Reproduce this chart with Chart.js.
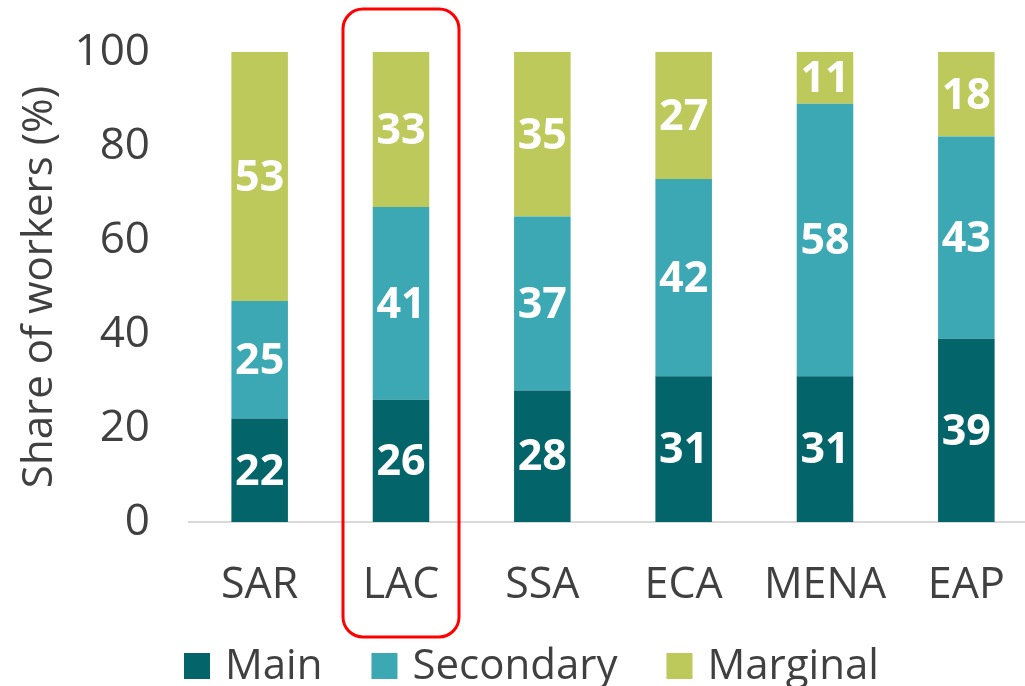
<!DOCTYPE html>
<html>
<head>
<meta charset="utf-8">
<script src="https://cdn.jsdelivr.net/npm/chart.js@4.4.0/dist/chart.umd.min.js"></script>
<style>
  html, body { margin: 0; padding: 0; background: #fff; overflow: hidden; }
  #wrap { width: 1037px; height: 700px; }
</style>
</head>
<body>
<div id="wrap"><canvas id="chart" width="1037" height="700"></canvas></div>
<script>
const regions = ['SAR', 'LAC', 'SSA', 'ECA', 'MENA', 'EAP'];
const mainShare = [22, 26, 28, 31, 31, 39];
const secondaryShare = [25, 41, 37, 42, 58, 43];
const marginalShare = [53, 33, 35, 27, 11, 18];
const seriesNames = ['Main', 'Secondary', 'Marginal'];
const seriesColors = ['#03646A', '#3CA8B4', '#BDC95A'];
const highlighted = 'LAC';

const FONT = "'Open Sans', sans-serif";
const GREY = '#404040';

// white numbers in the middle of each segment
const segmentLabels = {
  id: 'segmentLabels',
  afterDatasetsDraw(chart) {
    const ctx = chart.ctx;
    ctx.save();
    ctx.fillStyle = '#fff';
    ctx.font = "bold 43px " + FONT;
    ctx.textAlign = 'center';
    ctx.textBaseline = 'middle';
    chart.data.datasets.forEach((ds, i) => {
      chart.getDatasetMeta(i).data.forEach((bar, j) => {
        const p = bar.getCenterPoint();
        ctx.fillText(ds.data[j], p.x, p.y + 2);
      });
    });
    ctx.restore();
  }
};

// red rounded box around the highlighted region
const highlightBox = {
  id: 'highlightBox',
  afterDraw(chart) {
    const x = chart.scales.x.getPixelForValue(regions.indexOf(highlighted));
    const ctx = chart.ctx;
    ctx.save();
    ctx.strokeStyle = '#FF0000';
    ctx.lineWidth = 3;
    ctx.beginPath();
    ctx.roundRect(x - 58, 9, 116, 628, 20);
    ctx.stroke();
    ctx.restore();
  }
};

// legend drawn by hand so it sits where the original one does
const bottomLegend = {
  id: 'bottomLegend',
  afterDraw(chart) {
    const ctx = chart.ctx;
    ctx.save();
    ctx.font = "42px " + FONT;
    ctx.textBaseline = 'middle';
    let x = 184;
    const y = 666;
    chart.data.datasets.forEach(ds => {
      ctx.fillStyle = ds.backgroundColor;
      ctx.fillRect(x, y - 13, 26, 26);
      ctx.fillStyle = GREY;
      ctx.fillText(ds.label, x + 41, y + 1);
      x += 41 + ctx.measureText(ds.label).width + 49;
    });
    ctx.restore();
  }
};

new Chart(document.getElementById('chart'), {
  type: 'bar',
  data: {
    labels: regions,
    datasets: [mainShare, secondaryShare, marginalShare].map((d, i) => ({
      label: seriesNames[i],
      data: d,
      backgroundColor: seriesColors[i],
      categoryPercentage: 0.8,
      barPercentage: 0.5
    }))
  },
  options: {
    responsive: false,
    animation: false,
    layout: { padding: { top: 52, bottom: 98, left: 15, right: 0 } },
    plugins: {
      legend: { display: false },
      tooltip: { enabled: false }
    },
    scales: {
      x: {
        stacked: true,
        grid: { display: false },
        border: { color: '#D9D9D9', width: 2 },
        ticks: { color: GREY, font: { family: FONT, size: 43 }, padding: 30 },
        afterFit(scale) { scale.height = 80; }
      },
      y: {
        stacked: true,
        min: 0,
        max: 100,
        grid: { display: false },
        border: { display: false },
        ticks: { stepSize: 20, color: GREY, font: { family: FONT, size: 44 }, padding: 31 },
        title: {
          display: true,
          text: 'Share of workers (%)',
          color: GREY,
          font: { family: FONT, size: 42 },
          padding: { top: 0, bottom: 0 }
        },
        afterFit(scale) {
          scale.width = 174;
          scale.paddingTop = 0;
          scale.paddingBottom = 0;
        }
      }
    }
  },
  plugins: [segmentLabels, highlightBox, bottomLegend]
});
</script>
</body>
</html>
